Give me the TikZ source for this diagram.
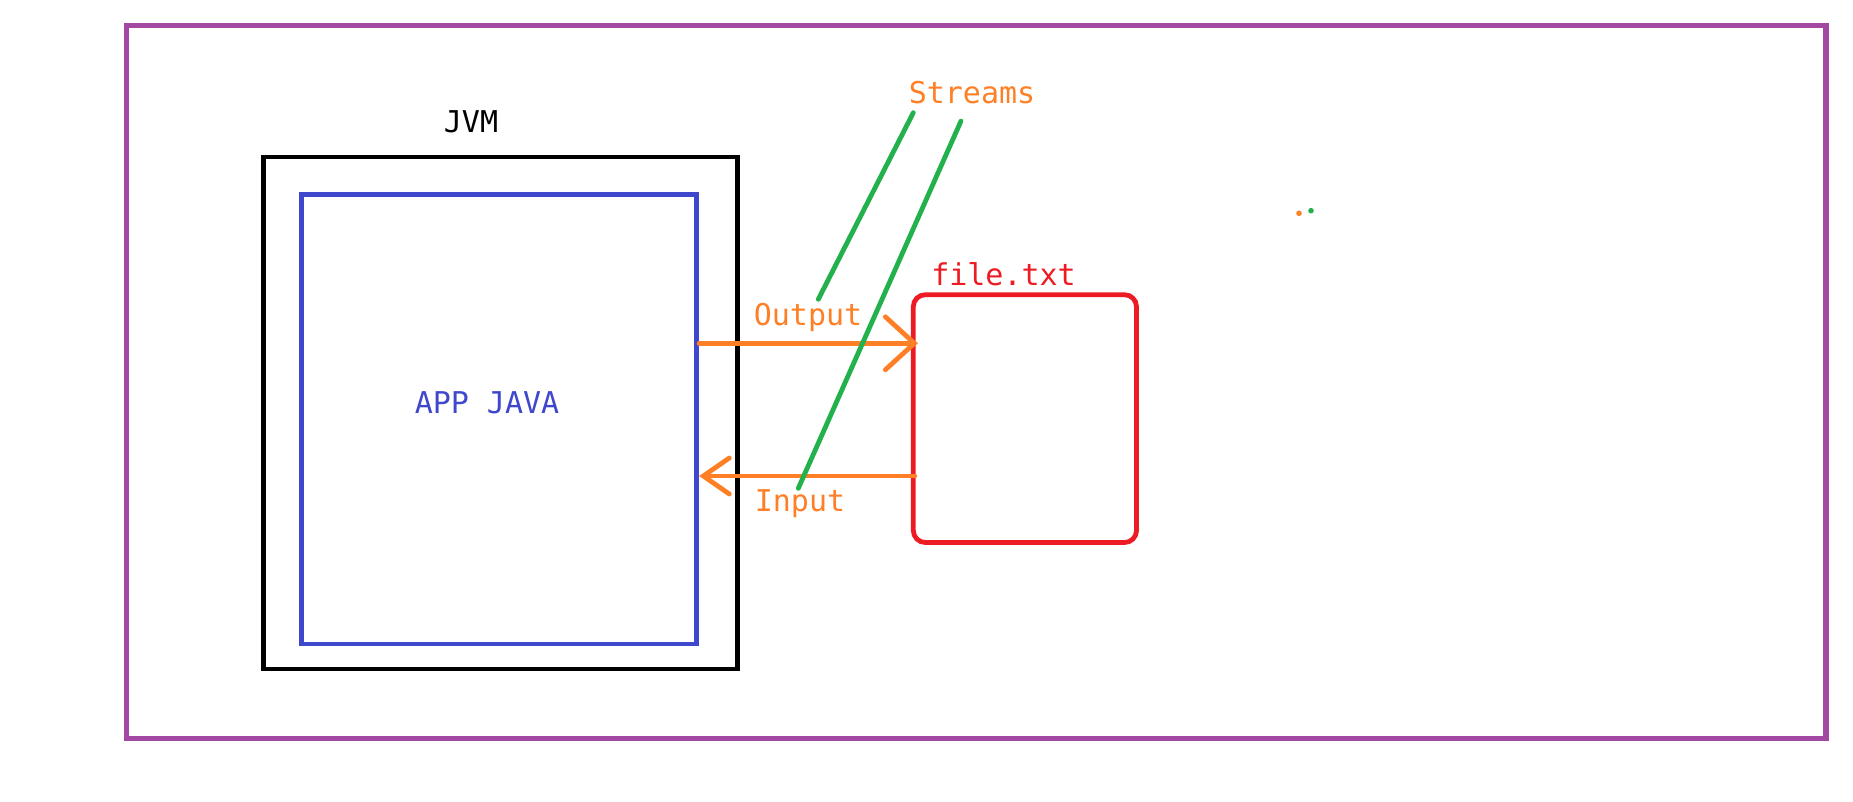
\documentclass[tikz,border=0pt]{standalone}
\usepackage{fontspec}
\setmonofont{DejaVu Sans Mono}
\usetikzlibrary{arrows.meta}
\definecolor{ppurple}{HTML}{A349A4}
\definecolor{pblue}{HTML}{3F48CC}
\definecolor{pred}{HTML}{ED1C24}
\definecolor{porange}{HTML}{FF7F27}
\definecolor{pgreen}{HTML}{22B14C}
\tikzset{
  box/.style={draw, line width=4.8pt, minimum width=#1, inner sep=0pt},
  lbl/.style={font=\ttfamily\fontsize{30}{32}\selectfont, inner sep=0pt},
  flow/.style={draw=porange, line width=4.8pt, line cap=round,
    -{Straight Barb[length=#1,line cap=round,line width=4.8pt]}},
  streamline/.style={draw=pgreen, line width=4.8pt, line cap=round},
}
\begin{document}
\begin{tikzpicture}[x=1pt,y=-1pt]
\useasboundingbox (0,0) rectangle (1853,802);
\node[box=1699.3pt, draw=ppurple, line width=5.3pt, minimum height=713.3pt] (frame) at (976.35,382) {};
\node[box=474.5pt, draw=black, minimum height=512pt] (jvm) at (500.6,413) {};
\node[box=395pt, draw=pblue, minimum height=449.3pt] (app) at (499.2,419.4) {};
\node[box=223.2pt, draw=pred, minimum height=247.8pt, rounded corners=12pt] (file) at (1024.9,418.6) {};
\node[lbl, text=black] (jvmlbl) at (471,121.5) {JVM};
\node[lbl, text=pblue] (applbl) at (487,403) {APP JAVA};
\node[lbl, text=pred] (filelbl) at (1003.5,274) {file.txt};
\node[lbl, text=porange] (streams) at (972,93) {Streams};
\node[lbl, text=porange] (outlbl) at (808,317) {Output};
\node[lbl, text=porange] (inlbl) at (800,504) {Input};
\coordinate (oy) at (0,343.3);
\coordinate (iy) at (0,476);
\draw[flow={29pt, width=53pt}] (oy -| app.east) -- ([xshift=7pt]oy -| file.west);
\draw[flow={26pt, width=36pt}] ([xshift=4pt]iy -| file.west) -- (iy -| app.east);
\coordinate (s1a) at (913.3,112.7);
\coordinate (s1b) at (818.3,299.3);
\coordinate (s2a) at (961,121);
\coordinate (s2b) at (798.3,488.3);
\draw[streamline] (s1a) -- (s1b);
\draw[streamline] (s2a) -- (s2b);
\fill[porange] (1299,213.3) circle (2.8pt);
\fill[pgreen] (1311,210.7) circle (2.8pt);
\end{tikzpicture}
\end{document}
